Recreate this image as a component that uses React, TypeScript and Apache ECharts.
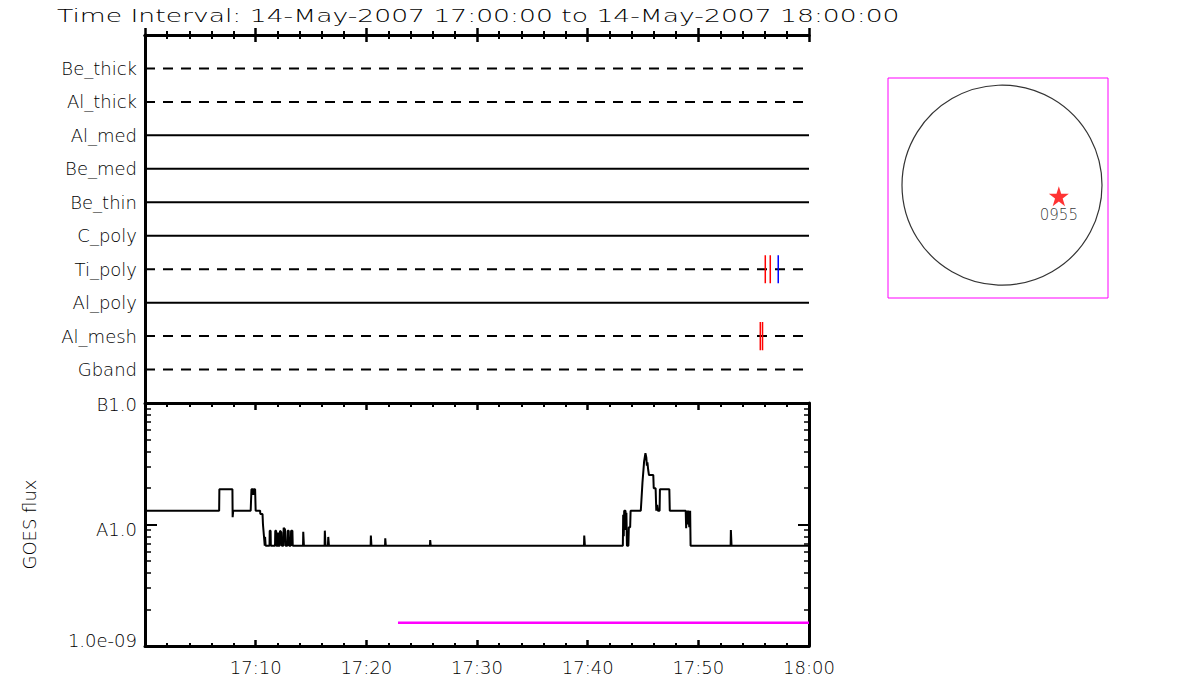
import React, { useEffect, useRef } from 'react';
import * as echarts from 'echarts';

const TITLE = 'Time Interval: 14-May-2007 17:00:00 to 14-May-2007 18:00:00';

// detector rows of the upper panel (top to bottom)
const detectorRows = ['Be_thick', 'Al_thick', 'Al_med', 'Be_med', 'Be_thin', 'C_poly', 'Ti_poly', 'Al_poly', 'Al_mesh', 'Gband'];
const rowDashed = [true, true, false, false, false, false, true, false, true, true];

// observation marks (minutes after 17:00, row number, colour)
const markTimes = [56.05, 56.5, 57.22, 55.6, 55.8];
const markRows = [7, 7, 7, 9, 9];
const markColors = ['#ff0000', '#ff0000', '#0000ff', '#ff0000', '#ff0000'];

// time axis (minutes after 17:00)
const timeTickLabels = ['17:00', '17:10', '17:20', '17:30', '17:40', '17:50', '18:00'];

// GOES flux axis
const fluxLabelValues = [1e-9, 1e-8, 1e-7];
const fluxLabels = ['1.0e-09', 'A1.0', 'B1.0'];
const fluxMinorTicks = [2e-9, 3e-9, 4e-9, 5e-9, 6e-9, 7e-9, 8e-9, 9e-9, 2e-8, 3e-8, 4e-8, 5e-8, 6e-8, 7e-8, 8e-8, 9e-8];

// GOES light curve (minutes after 17:00, W/m^2)
const goesTime = [
  0, 6.70, 6.72, 7.90, 7.92, 7.97, 9.55, 9.62, 9.75, 9.78, 9.83, 9.95, 10.0, 10.40, 10.42, 10.62, 10.66, 10.75, 10.82,
  10.85, 10.9, 11.25, 11.27, 11.35, 11.37, 11.75, 11.77, 11.85, 11.87, 12.00, 12.02, 12.08, 12.17, 12.2, 12.32, 12.36,
  12.50, 12.53, 12.65, 12.70, 12.86, 12.89, 12.99, 13.02, 13.17, 13.2, 13.32, 13.35,
  14.28, 14.30, 14.36, 16.23, 16.25, 16.31, 16.53, 16.56, 16.62, 20.39, 20.41, 20.46, 21.69, 21.71, 21.76,
  25.75, 25.77, 25.82, 39.67, 39.69, 39.75,
  43.18, 43.21, 43.26, 43.30, 43.42, 43.45, 43.50, 43.55, 43.68, 43.72, 43.84, 43.88,
  44.80, 44.86, 44.95, 45.10, 45.22, 45.30, 45.35, 45.40, 45.47, 45.54, 45.93, 45.97, 46.14, 46.20, 46.28, 46.34,
  46.50, 46.53, 47.38, 47.42, 48.86, 48.90, 48.95, 49.03, 49.08, 49.18, 49.26, 49.30,
  52.92, 52.94, 53.0, 60
];
const goesFlux = [
  1.3e-8, 1.3e-8, 1.95e-8, 1.95e-8, 1.15e-8, 1.3e-8, 1.3e-8, 1.95e-8, 1.95e-8, 1.75e-8, 1.95e-8, 1.95e-8, 1.3e-8, 1.3e-8, 1.22e-8, 1.22e-8, 1.0e-8, 8.0e-9, 6.7e-9,
  7.9e-9, 6.7e-9, 6.7e-9, 8.9e-9, 8.9e-9, 6.7e-9, 6.7e-9, 8.9e-9, 8.9e-9, 6.7e-9, 6.7e-9, 8.6e-9, 6.7e-9, 6.7e-9, 8.9e-9, 8.6e-9, 6.7e-9,
  6.7e-9, 9.4e-9, 9.1e-9, 6.7e-9, 6.7e-9, 8.9e-9, 8.9e-9, 6.7e-9, 6.7e-9, 8.9e-9, 8.9e-9, 6.7e-9,
  6.7e-9, 8.7e-9, 6.7e-9, 6.7e-9, 8.9e-9, 6.7e-9, 6.7e-9, 7.9e-9, 6.7e-9, 6.7e-9, 8.1e-9, 6.7e-9, 6.7e-9, 7.7e-9, 6.7e-9,
  6.7e-9, 7.45e-9, 6.7e-9, 6.7e-9, 8.1e-9, 6.7e-9,
  6.7e-9, 1.2e-8, 8.0e-9, 1.3e-8, 1.3e-8, 9.0e-9, 1.25e-8, 6.7e-9, 6.7e-9, 9.5e-9, 9.5e-9, 1.3e-8,
  1.3e-8, 1.6e-8, 2.2e-8, 3.3e-8, 3.86e-8, 3.57e-8, 3.05e-8, 3.25e-8, 2.81e-8, 2.55e-8, 2.55e-8, 1.99e-8, 1.99e-8, 1.3e-8, 1.45e-8, 1.3e-8,
  1.3e-8, 1.95e-8, 1.95e-8, 1.3e-8, 1.3e-8, 9.3e-9, 1.3e-8, 1.0e-8, 1.3e-8, 9.5e-9, 1.3e-8, 6.7e-9,
  6.7e-9, 9.0e-9, 6.7e-9, 6.7e-9
];

// magenta threshold line
const thresholdTime = [22.86, 60];
const thresholdFlux = [1.555e-9, 1.555e-9];

// solar disk locator (arcsec)
const flareName = '0955';
const flareX = 540;
const flareY = -105;

const FONT = 'DejaVu Sans';
const WEIGHT = 200;
const BLACK = '#000000';
const STAR = 'path://M50,0 L61.2,34.5 L97.6,34.5 L68.2,55.9 L79.4,90.5 L50,69.1 L20.6,90.5 L31.8,55.9 L2.4,34.5 L38.8,34.5 Z';

export default function App() {
  const ref = useRef<HTMLDivElement>(null);

  useEffect(() => {
    if (!ref.current) return;
    const chart = echarts.init(ref.current, undefined, { renderer: 'svg' });

    const axisLine = { show: true, lineStyle: { color: BLACK, width: 3 } };
    const timeAxisBase = {
      type: 'value',
      min: 0,
      max: 60,
      interval: 10,
      splitLine: { show: false },
      axisLine,
    };

    const rowSeries = detectorRows.map((name, i) => ({
      type: 'line',
      name,
      xAxisIndex: 0,
      yAxisIndex: 0,
      symbol: 'none',
      silent: true,
      data: [[0, i + 1], [60, i + 1]],
      lineStyle: { color: BLACK, width: 2, type: rowDashed[i] ? [10, 8] : 'solid' },
      z: 3,
    }));

    const markSeries = markTimes.map((t, i) => ({
      type: 'line',
      xAxisIndex: 0,
      yAxisIndex: 0,
      symbol: 'none',
      silent: true,
      data: [[t, markRows[i] - 0.42], [t, markRows[i] + 0.42]],
      lineStyle: { color: markColors[i], width: 1.5 },
      z: 4,
    }));

    const fluxTickFormatter = (v: number) => {
      let best = 0;
      fluxLabelValues.forEach((fv, i) => {
        if (Math.abs(Math.log10(v) - Math.log10(fv)) < Math.abs(Math.log10(v) - Math.log10(fluxLabelValues[best]))) best = i;
      });
      const txt = fluxLabels[best];
      if (best === 0) return `{lo|${txt}}`;
      if (best === fluxLabels.length - 1) return `{hi|${txt}}`;
      return `{mid|${txt}}`;
    };

    const richStyle = { fontSize: 18, fontFamily: FONT, fontWeight: WEIGHT, color: BLACK };

    const logBase = {
      type: 'log',
      logBase: 10,
      min: 1e-9,
      max: 1e-7,
      gridIndex: 1,
      splitLine: { show: false },
      minorTick: { show: false },
    };

    const option: any = {
      animation: false,
      backgroundColor: '#ffffff',
      textStyle: { fontFamily: FONT, fontWeight: WEIGHT },
      graphic: [
        {
          type: 'text',
          x: 57,
          y: 7,
          scaleX: 1.565,
          style: { text: TITLE, fontSize: 17, fontFamily: FONT, fontWeight: WEIGHT, fill: BLACK },
        },
      ],
      grid: [
        { left: 145, top: 35, width: 664, height: 368 },
        { left: 145, top: 403, width: 664, height: 243 },
        { left: 888, top: 78, width: 220, height: 220, show: true, borderColor: '#ff00ff', borderWidth: 1, backgroundColor: 'transparent' },
      ],
      xAxis: [
        {
          ...timeAxisBase,
          gridIndex: 0,
          position: 'top',
          axisLabel: { show: false },
          axisTick: { show: true, inside: true, length: 7, lineStyle: { color: BLACK, width: 2.5 } },
          minorTick: { show: true, splitNumber: 5, length: 4, lineStyle: { color: BLACK, width: 2 } },
        },
        {
          ...timeAxisBase,
          gridIndex: 0,
          position: 'bottom',
          axisLabel: { show: false },
          axisTick: { show: true, inside: true, length: 7, lineStyle: { color: BLACK, width: 2.5 } },
          minorTick: { show: true, splitNumber: 5, length: 4, lineStyle: { color: BLACK, width: 2 } },
        },
        {
          ...timeAxisBase,
          gridIndex: 1,
          position: 'bottom',
          axisLabel: {
            show: true,
            color: BLACK,
            fontSize: 18,
            fontFamily: FONT,
            fontWeight: WEIGHT,
            margin: 12,
            formatter: (v: number) => (v === 0 ? '' : timeTickLabels[Math.round(v / 10)]),
          },
          axisTick: { show: true, inside: true, length: 6, lineStyle: { color: BLACK, width: 2.5 } },
          minorTick: { show: true, splitNumber: 5, length: 3, lineStyle: { color: BLACK, width: 2 } },
        },
        {
          ...timeAxisBase,
          gridIndex: 1,
          position: 'top',
          axisLabel: { show: false },
          axisTick: { show: true, inside: true, length: 7, lineStyle: { color: BLACK, width: 2.5 } },
          minorTick: { show: true, splitNumber: 5, length: 4, lineStyle: { color: BLACK, width: 2 } },
        },
        { type: 'value', gridIndex: 2, min: -1083, max: 1007, show: false },
      ],
      yAxis: [
        {
          type: 'value',
          gridIndex: 0,
          position: 'left',
          min: 0,
          max: 11,
          interval: 1,
          inverse: true,
          splitLine: { show: false },
          axisLine,
          axisTick: { show: false },
          axisLabel: {
            show: true,
            color: BLACK,
            fontSize: 18,
            fontFamily: FONT,
            fontWeight: WEIGHT,
            margin: 8,
            formatter: (v: number) => detectorRows[v - 1] ?? '',
          },
        },
        {
          type: 'value',
          gridIndex: 0,
          position: 'right',
          min: 0,
          max: 11,
          interval: 1,
          inverse: true,
          splitLine: { show: false },
          axisLine,
          axisTick: { show: false },
          axisLabel: { show: false },
        },
        {
          ...logBase,
          position: 'left',
          axisLine,
          name: 'GOES flux',
          nameLocation: 'middle',
          nameGap: 107,
          nameTextStyle: { color: BLACK, fontSize: 18, fontFamily: FONT, fontWeight: WEIGHT },
          axisTick: { show: true, inside: true, length: 12, lineStyle: { color: BLACK, width: 2 } },
          axisLabel: {
            show: true,
            color: BLACK,
            fontSize: 18,
            fontFamily: FONT,
            fontWeight: WEIGHT,
            margin: 8,
            formatter: fluxTickFormatter,
            rich: {
              lo: { ...richStyle, padding: [0, 0, 12, 0] },
              mid: { ...richStyle, padding: [10, 0, 0, 0] },
              hi: { ...richStyle, padding: [3, 0, 0, 0] },
            },
          },
        },
        {
          ...logBase,
          position: 'left',
          axisLine: { show: false },
          axisLabel: { show: false },
          axisTick: { show: true, inside: true, length: 6, customValues: fluxMinorTicks, lineStyle: { color: BLACK, width: 1.5 } },
        },
        {
          ...logBase,
          position: 'right',
          axisLine,
          axisLabel: { show: false },
          axisTick: { show: true, inside: true, length: 11, lineStyle: { color: BLACK, width: 2 } },
        },
        {
          ...logBase,
          position: 'right',
          axisLine: { show: false },
          axisLabel: { show: false },
          axisTick: { show: true, inside: true, length: 5, customValues: fluxMinorTicks, lineStyle: { color: BLACK, width: 1.5 } },
        },
        { type: 'value', gridIndex: 2, min: -1072, max: 1018, show: false },
      ],
      series: [
        ...rowSeries,
        ...markSeries,
        {
          type: 'line',
          name: 'GOES',
          xAxisIndex: 2,
          yAxisIndex: 2,
          symbol: 'none',
          silent: true,
          data: goesTime.map((t, i) => [t, goesFlux[i]]),
          lineStyle: { color: BLACK, width: 2 },
          z: 3,
        },
        {
          type: 'line',
          name: 'threshold',
          xAxisIndex: 2,
          yAxisIndex: 2,
          symbol: 'none',
          silent: true,
          data: thresholdTime.map((t, i) => [t, thresholdFlux[i]]),
          lineStyle: { color: '#ff00ff', width: 2.5 },
          z: 3,
        },
        {
          type: 'scatter',
          name: 'disk',
          xAxisIndex: 4,
          yAxisIndex: 6,
          silent: true,
          symbol: 'circle',
          symbolSize: 200,
          data: [[0, 0]],
          itemStyle: { color: 'rgba(0,0,0,0)', borderColor: BLACK, borderWidth: 1.2 },
        },
        {
          type: 'scatter',
          name: 'flare',
          xAxisIndex: 4,
          yAxisIndex: 6,
          silent: true,
          symbol: STAR,
          symbolSize: [20, 20],
          data: [{ name: flareName, value: [flareX, flareY] }],
          itemStyle: { color: '#ff0000' },
          label: {
            show: true,
            position: 'bottom',
            distance: 1,
            formatter: '{b}',
            color: BLACK,
            fontSize: 15,
            fontFamily: FONT,
            fontWeight: 300,
          },
        },
      ],
    };

    chart.setOption(option);
    return () => chart.dispose();
  }, []);

  return (
    <div
      ref={ref}
      style={{ position: 'fixed', left: 0, top: 0, width: 1200, height: 700, background: '#fff' }}
    />
  );
}
